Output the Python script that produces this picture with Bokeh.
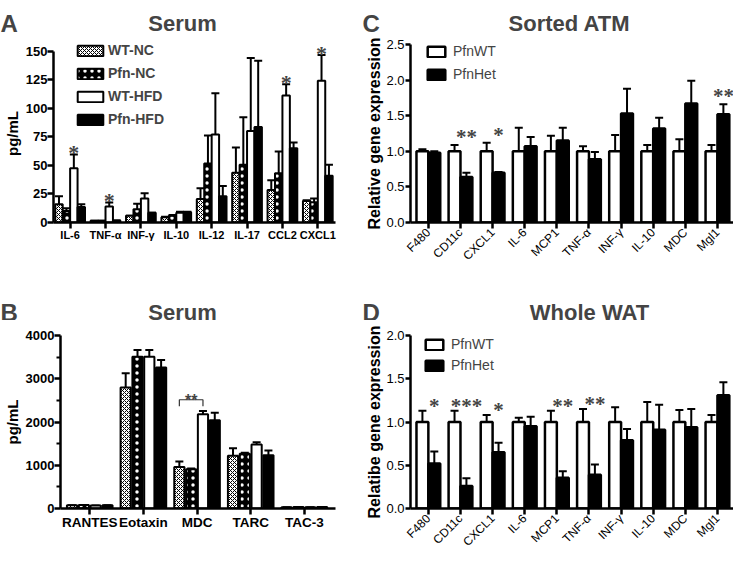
from math import pi
from bokeh.plotting import figure
from bokeh.models import (ColumnDataSource, FixedTicker, Whisker, TeeHead, Legend, LegendItem,
                          Label, LabelSet, NumeralTickFormatter, Range1d)
from bokeh.layouts import column, row
from bokeh.embed import file_html
from bokeh.resources import INLINE

FONT = "Liberation Sans"

# ---------------- Panel A data (Serum, pg/mL) ----------------
a_cats = ["IL-6", "TNF-α", "INF-γ", "IL-10", "IL-12", "IL-17", "CCL2", "CXCL1"]
a_series = ["WT-NC", "Pfn-NC", "WT-HFD", "Pfn-HFD"]
a_wt_nc = [16, 1.5, 6, 4.5, 20.5, 43.5, 28.5, 18.8]
a_wt_nc_err = [23, 1.5, 6, 5, 30, 65.5, 37, 19.5]
a_pfn_nc = [10, 1.5, 11.5, 6, 51.5, 50.5, 43, 17.7]
a_pfn_nc_err = [12.5, 1.5, 16.5, 6.5, 76, 92, 62, 21]
a_wt_hfd = [47.5, 14, 21, 8.5, 77, 80, 111, 124]
a_wt_hfd_err = [59.5, 17.5, 25.5, 9.5, 113, 144, 121, 146.5]
a_pfn_hfd = [13.5, 1.8, 8.5, 9, 23, 83.5, 65, 41]
a_pfn_hfd_err = [16, 1.8, 8.5, 9.5, 32, 141.5, 70, 50.5]
a_sig = ["*", "*", "", "", "", "", "*", "*"]
a_yticks = [0, 25, 50, 75, 100, 125, 150]

# ---------------- Panel B data (Serum, pg/mL) ----------------
b_cats = ["RANTES", "Eotaxin", "MDC", "TARC", "TAC-3"]
b_wt_nc = [75, 2800, 960, 1220, 30]
b_wt_nc_err = [75, 3130, 1085, 1395, 30]
b_pfn_nc = [80, 3510, 910, 1265, 35]
b_pfn_nc_err = [80, 3665, 925, 1290, 35]
b_wt_hfd = [70, 3510, 2180, 1480, 30]
b_wt_hfd_err = [70, 3665, 2255, 1530, 30]
b_pfn_hfd = [75, 3260, 2040, 1230, 35]
b_pfn_hfd_err = [75, 3435, 2215, 1340, 35]
b_bracket_group = "MDC"
b_bracket_series = ["WT-NC", "WT-HFD"]
b_bracket_sig = "**"
b_yticks = [0, 1000, 2000, 3000, 4000]
b_yminor = [500, 1500, 2500, 3500]

# ---------------- Panel C data (Sorted ATM) ----------------
cd_cats = ["F480", "CD11c", "CXCL1", "IL-6", "MCP1", "TNF-α", "INF-γ", "IL-10", "MDC", "Mgl1"]
cd_series = ["PfnWT", "PfnHet"]
c_wt = [1.0, 1.0, 1.0, 1.0, 1.0, 1.0, 1.0, 1.0, 1.0, 1.0]
c_wt_err = [1.03, 1.09, 1.12, 1.33, 1.22, 1.07, 1.23, 1.09, 1.17, 1.09]
c_het = [0.98, 0.64, 0.70, 1.07, 1.15, 0.89, 1.53, 1.32, 1.67, 1.52]
c_het_err = [1.0, 0.70, 0.71, 1.20, 1.33, 0.99, 1.88, 1.47, 1.99, 1.66]
c_sig = ["", "**", "*", "", "", "", "", "", "", "**"]
c_yticks = [0, 0.5, 1.0, 1.5, 2.0, 2.5]

# ---------------- Panel D data (Whole WAT) ----------------
d_wt = [1.0, 1.0, 1.0, 1.0, 1.0, 1.0, 1.0, 1.0, 1.0, 1.0]
d_wt_err = [1.13, 1.13, 1.08, 1.05, 1.13, 1.15, 1.17, 1.23, 1.14, 1.08]
d_het = [0.52, 0.26, 0.65, 0.95, 0.355, 0.39, 0.79, 0.91, 0.94, 1.31]
d_het_err = [0.66, 0.35, 0.76, 1.06, 0.43, 0.51, 0.92, 1.20, 1.15, 1.46]
d_sig = ["*", "***", "*", "", "**", "**", "", "", "", ""]
d_yticks = [0, 0.5, 1.0, 1.5, 2.0]

# ---------------- panel headings ----------------
titles = {"A": "Serum", "B": "Serum", "C": "Sorted ATM", "D": "Whole WAT"}

# ---------------- styles ----------------
STYLE4 = [
    dict(fill_color="white", hatch_pattern="diagonal_cross", hatch_color="black", hatch_scale=4, hatch_weight=1),
    dict(fill_color="black", hatch_pattern="dot", hatch_color="white", hatch_scale=7),
    dict(fill_color="white"),
    dict(fill_color="black"),
]
STYLE2 = [dict(fill_color="white"), dict(fill_color="black")]


def header(width, height, letter, title, title_cx, base_y):
    h = figure(width=width, height=height, x_range=Range1d(0, width), y_range=Range1d(0, height),
               x_axis_type=None, y_axis_type=None, output_backend="svg", toolbar_location=None,
               min_border=0)
    h.title.visible = False
    h.outline_line_color = None
    h.xgrid.visible = False
    h.ygrid.visible = False
    h.add_layout(Label(x=0, y=base_y, text=letter, text_font=FONT, text_font_style="bold",
                       text_font_size="24px", text_baseline="alphabetic", text_align="left"))
    h.add_layout(Label(x=title_cx, y=base_y, text=title, text_font=FONT, text_font_style="bold",
                       text_font_size="22px", text_baseline="alphabetic", text_align="center"))
    return h


def base_fig(width, height, xr, yr, mbl, mbr, mbt, mbb):
    p = figure(width=width, height=height, x_range=Range1d(*xr), y_range=Range1d(*yr),
               output_backend="svg", toolbar_location=None, min_border_left=mbl,
               min_border_right=mbr, min_border_top=mbt, min_border_bottom=mbb)
    p.title.visible = False
    p.outline_line_color = None
    p.xgrid.visible = False
    p.ygrid.visible = False
    for ax in (p.xaxis, p.yaxis):
        ax.axis_line_width = 2.5
        ax.axis_line_color = "black"
        ax.major_tick_line_width = 2.5
        ax.major_tick_line_color = "black"
        ax.major_tick_in = 0
        ax.major_tick_out = 6
        ax.minor_tick_line_color = None
        ax.major_label_text_font = FONT
        ax.major_label_text_color = "black"
        ax.axis_label_text_font = FONT
        ax.axis_label_text_font_style = "bold"
        ax.axis_label_text_color = "black"
        ax.major_label_standoff = 0
    return p


def add_series(p, cats, vals, errs, offset, width, style, lw):
    xs = [i + offset for i in range(len(cats))]
    src = ColumnDataSource(dict(x=xs, top=vals, err=errs))
    r = p.vbar(x="x", top="top", width=width, source=src, line_color="black", line_width=lw, **style)
    p.add_layout(Whisker(base="x", lower="top", upper="err", source=src, line_width=2, line_color="black",
                         upper_head=TeeHead(size=8, line_width=2, line_color="black"), lower_head=None))
    return r, src


# ================= Panel A =================
A_OFF = [-0.315, -0.105, 0.105, 0.315]
pA = base_fig(362, 250, (-0.47, 7.5), (0, 155.7), 47, 27, 0, 60)
pA.yaxis.bounds = (0, 150)
a_vals = [a_wt_nc, a_pfn_nc, a_wt_hfd, a_pfn_hfd]
a_errs = [a_wt_nc_err, a_pfn_nc_err, a_wt_hfd_err, a_pfn_hfd_err]
a_rend = []
for k in range(4):
    r, s = add_series(pA, a_cats, a_vals[k], a_errs[k], A_OFF[k], 0.21, STYLE4[k], 2)
    a_rend.append(r)
pA.xaxis.ticker = FixedTicker(ticks=list(range(len(a_cats))))
pA.xaxis.major_label_overrides = {i: c for i, c in enumerate(a_cats)}
pA.xaxis.major_label_text_font_size = "11px"
pA.xaxis.major_label_text_font_style = "bold"
pA.yaxis.ticker = FixedTicker(ticks=a_yticks)
pA.yaxis.major_label_text_font_size = "13px"
pA.yaxis.major_label_text_font_style = "bold"
pA.yaxis.axis_label = "pg/mL"
pA.yaxis.axis_label_text_font_size = "15px"
pA.yaxis.axis_label_standoff = 2
star_src = ColumnDataSource(dict(x=[i + A_OFF[2] for i in range(len(a_cats))], y=a_wt_hfd_err, t=a_sig))
pA.add_layout(LabelSet(x="x", y="y", text="t", source=star_src, text_font=FONT, text_font_style="bold",
                       text_font_size="22px", text_align="center", text_baseline="alphabetic", y_offset=-6))
legA = Legend(items=[LegendItem(label=n, renderers=[r]) for n, r in zip(a_series, a_rend)],
              location=(21, 95), glyph_width=32, glyph_height=13, label_height=16, spacing=7,
              padding=0, margin=0, border_line_color=None, background_fill_alpha=0,
              label_text_font=FONT, label_text_font_style="bold", label_text_font_size="14px",
              label_standoff=2)
pA.add_layout(legA)

# ================= Panel B =================
B_OFF = [-0.33, -0.11, 0.11, 0.33]
pB = base_fig(362, 240, (-0.545, 4.58), (0, 4000), 53, 27, 9, 45)
b_vals = [b_wt_nc, b_pfn_nc, b_wt_hfd, b_pfn_hfd]
b_errs = [b_wt_nc_err, b_pfn_nc_err, b_wt_hfd_err, b_pfn_hfd_err]
for k in range(4):
    add_series(pB, b_cats, b_vals[k], b_errs[k], B_OFF[k], 0.19, STYLE4[k], 2)
pB.xaxis.ticker = FixedTicker(ticks=list(range(len(b_cats))))
pB.xaxis.major_label_overrides = {i: c for i, c in enumerate(b_cats)}
pB.xaxis.major_label_text_font_size = "13.5px"
pB.xaxis.major_label_text_font_style = "bold"
pB.yaxis.ticker = FixedTicker(ticks=b_yticks, minor_ticks=b_yminor)
pB.yaxis.minor_tick_line_color = "black"
pB.yaxis.minor_tick_line_width = 2
pB.yaxis.minor_tick_out = 4
pB.yaxis.minor_tick_in = 0
pB.yaxis.major_label_text_font_size = "13px"
pB.yaxis.major_label_text_font_style = "bold"
pB.yaxis.axis_label = "pg/mL"
pB.yaxis.axis_label_text_font_size = "15px"
pB.yaxis.axis_label_standoff = 2
# significance bracket
gi = b_cats.index(b_bracket_group)
si = [a_series.index(s) for s in b_bracket_series]
bx0, bx1 = gi + B_OFF[si[0]], gi + B_OFF[si[1]]
bmax = max(b_errs[j][gi] for j in range(si[0], si[1] + 1))
btop = bmax + 260
pB.line(x=[bx0, bx0, bx1, bx1], y=[btop - 150, btop, btop, btop - 150], line_color="#333333", line_width=1.2)
pB.add_layout(Label(x=(bx0 + bx1) / 2, y=btop, text=b_bracket_sig, text_font=FONT, text_font_style="bold",
                    text_font_size="16px", text_align="center", text_baseline="alphabetic", y_offset=-1))

# ================= Panels C and D =================
CD_OFF = [-0.185, 0.185]
pC = base_fig(371, 250, (-0.556, 9.5), (0, 2.5), 48, 0, 12, 58)
c_r = []
for k, (v, e) in enumerate([(c_wt, c_wt_err), (c_het, c_het_err)]):
    r, s = add_series(pC, cd_cats, v, e, CD_OFF[k], 0.37, STYLE2[k], 2.5)
    c_r.append(r)

pD = base_fig(371, 240, (-0.556, 9.5), (0, 2.0), 48, 0, 15, 52)
d_r = []
for k, (v, e) in enumerate([(d_wt, d_wt_err), (d_het, d_het_err)]):
    r, s = add_series(pD, cd_cats, v, e, CD_OFF[k], 0.37, STYLE2[k], 2.5)
    d_r.append(r)

for p, rends, sig, wte, hte, ylab, yt, yoff in [
        (pC, c_r, c_sig, c_wt_err, c_het_err, "Relative gene expression", c_yticks, 1),
        (pD, d_r, d_sig, d_wt_err, d_het_err, "Relatibe gene expression", d_yticks, -2)]:
    p.xaxis.ticker = FixedTicker(ticks=list(range(len(cd_cats))))
    p.xaxis.major_label_overrides = {i: c for i, c in enumerate(cd_cats)}
    p.xaxis.major_label_orientation = pi / 4
    p.xaxis.major_label_text_font_size = "12px"
    p.xaxis.major_label_standoff = 2
    p.yaxis.ticker = FixedTicker(ticks=yt)
    p.yaxis.formatter = NumeralTickFormatter(format="0.0")
    p.yaxis.major_tick_out = 5
    p.yaxis.major_label_text_font_size = "13px"
    p.yaxis.major_label_standoff = 1
    p.yaxis.axis_label = ylab
    p.yaxis.axis_label_text_font_size = "16px"
    p.yaxis.axis_label_standoff = 0
    ssrc = ColumnDataSource(dict(x=[i + CD_OFF[1] for i in range(len(cd_cats))],
                                 y=[max(a, b) for a, b in zip(wte, hte)], t=sig))
    p.add_layout(LabelSet(x="x", y="y", text="t", source=ssrc, text_font=FONT, text_font_style="bold",
                          text_font_size="21px", text_align="center", text_baseline="alphabetic",
                          y_offset=yoff))

legC = Legend(items=[LegendItem(label=n, renderers=[r]) for n, r in zip(cd_series, c_r)],
              location=(15, 140), glyph_width=22, glyph_height=13, label_height=16, spacing=7,
              padding=0, margin=0, border_line_color=None, background_fill_alpha=0,
              label_text_font=FONT, label_text_font_size="14px", label_standoff=6)
pC.add_layout(legC)
legD = Legend(items=[LegendItem(label=n, renderers=[r]) for n, r in zip(cd_series, d_r)],
              location=(13, 135), glyph_width=22, glyph_height=13, label_height=16, spacing=5,
              padding=0, margin=0, border_line_color=None, background_fill_alpha=0,
              label_text_font=FONT, label_text_font_size="14px", label_standoff=6)
pD.add_layout(legD)

hA = header(362, 32, "A", titles["A"], 182, 9)
hC = header(371, 32, "C", titles["C"], 207, 9)
hB = header(362, 38, "B", titles["B"], 182, 8)
hD = header(371, 38, "D", titles["D"], 227, 8)

layout = column(row(hA, hC), row(pA, pC), row(hB, hD), row(pB, pD))
open("out.html", "w").write(file_html(layout, INLINE))
